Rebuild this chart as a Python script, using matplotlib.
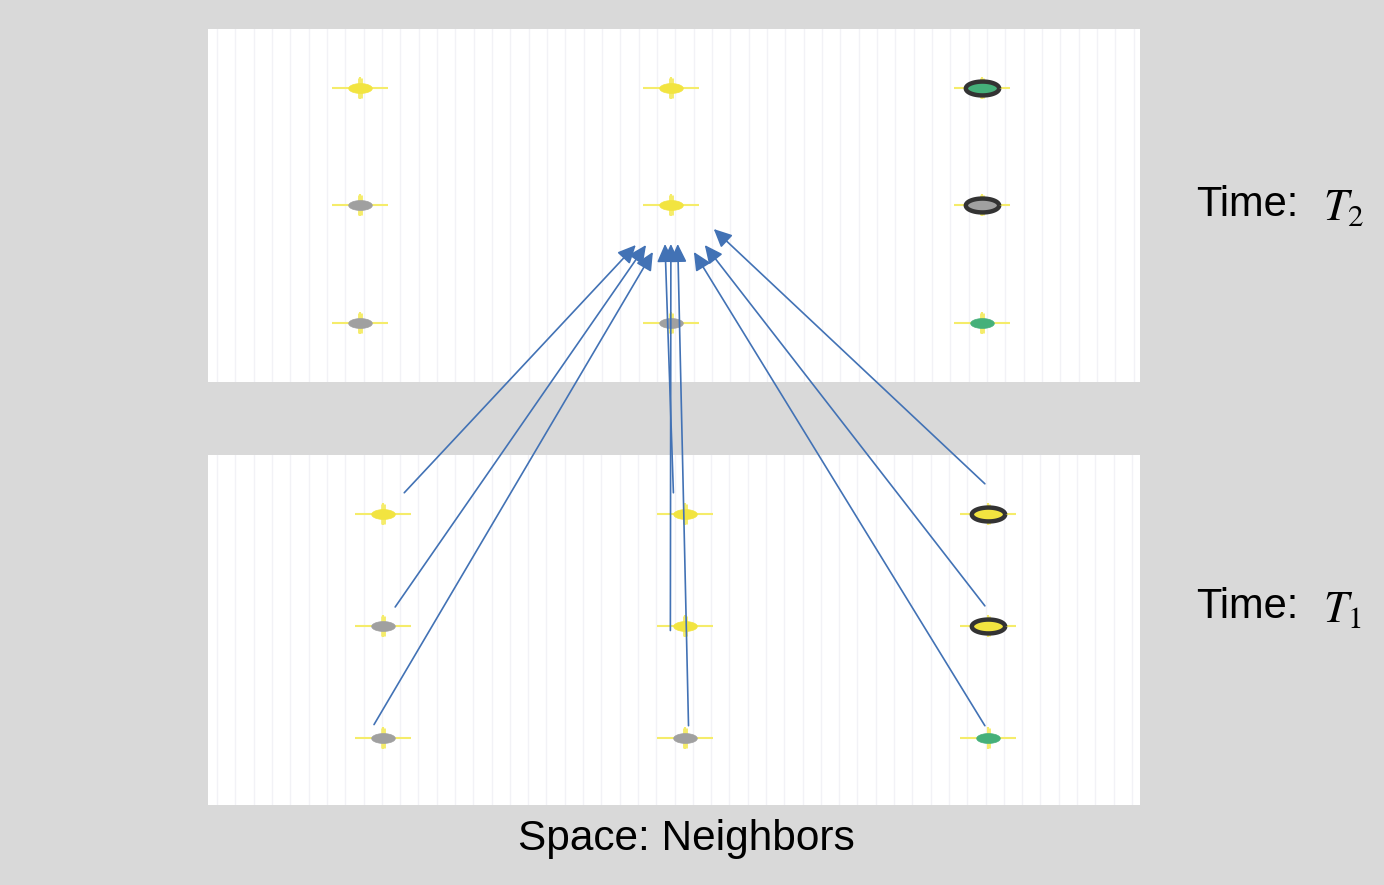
import numpy as np
import matplotlib
matplotlib.use("Agg")
from matplotlib import pyplot as plt
from matplotlib.path import Path
from matplotlib.patches import ConnectionPatch

plt.rcParams['font.family'] = ['Liberation Sans', 'DejaVu Sans']
plt.rcParams['mathtext.fontset'] = 'stix'

# grid of neighbours: columns 0..2 (space), rows 0..2
cols = [0, 1, 2]
rows = [0, 1, 2]

# node states per panel, row by row: fill colour key and dark edge flag
top_fill = [['y', 'y', 'g'],
            ['k', 'y', 'k'],
            ['k', 'k', 'g']]
top_edge = [[0, 0, 1],
            [0, 0, 1],
            [0, 0, 0]]
bot_fill = [['y', 'y', 'y'],
            ['k', 'y', 'y'],
            ['k', 'k', 'g']]
bot_edge = [[0, 0, 1],
            [0, 0, 1],
            [0, 0, 0]]

# arrows: start in T1 panel (x, y) -> end in T2 panel (x, y), data units
arrow_start = [(0.07, -0.19), (0.04, 0.83), (-0.03, 1.88),
               (0.96, -0.19), (0.95, 1.04), (1.01, 1.89),
               (1.99, -0.27), (1.99, 0.82), (1.99, 1.89)]
arrow_end = [(0.887, 1.336), (0.920, 1.336), (0.942, 1.395),
             (0.981, 1.327), (1.000, 1.327), (1.022, 1.327),
             (1.138, 1.200), (1.109, 1.336), (1.074, 1.395)]

colors = {'y': '#f2e440', 'g': '#45b07a', 'k': '#a0a0a0'}
glow = '#f5ec6a'
bg = '#d9d9d9'
arrow_col = '#4272b5'

# ellipse marker and glow cross marker
t = np.linspace(0, 2 * np.pi, 60)
ellipse = Path(np.column_stack([2.4 * np.cos(t), np.sin(t)]))
cross = Path([(-2.6, 0), (2.6, 0), (0, -1.0), (0, 1.0)],
             [Path.MOVETO, Path.LINETO, Path.MOVETO, Path.LINETO])

W, H = 1384, 885
fig = plt.figure(figsize=(W / 100, H / 100), dpi=100, facecolor=bg)

ax_top = fig.add_axes([208 / W, 1 - 382 / H, 932 / W, 353 / H])
ax_bot = fig.add_axes([208 / W, 1 - 805 / H, 932 / W, 350 / H])


def draw_panel(ax, fills, edges, xlim, ylim, step):
    ax.set_facecolor('white')
    ax.set_xlim(*xlim)
    ax.set_ylim(*ylim)
    ax.set_xticks(np.arange(xlim[0] + step / 2, xlim[1], step))
    ax.set_yticks([])
    ax.grid(True, axis='x', color='#f2f2f6', lw=1.0)
    ax.tick_params(length=0, labelbottom=False, labelleft=False)
    for s in ax.spines.values():
        s.set_visible(False)
    for r in rows:
        for c in cols:
            ax.plot(c, r, marker=cross, ms=40, mew=1.5, color=glow,
                    linestyle='none', zorder=2)
            if edges[r][c]:
                ax.plot(c, r, marker=ellipse, ms=24, mfc=colors[fills[r][c]],
                        mec='#333333', mew=3.2, linestyle='none', zorder=3)
            else:
                ax.plot(c, r, marker=ellipse, ms=17, mfc=colors[fills[r][c]],
                        mec=colors[fills[r][c]], mew=0.5, linestyle='none',
                        zorder=3)
        # small vertical glow dots above / below each node
        ax.plot(cols, [r] * 3, marker='|', ms=15, mew=3.5, color=glow,
                linestyle='none', zorder=1)


draw_panel(ax_top, top_fill, top_edge, (-0.49, 2.51), (2.5, -0.5), 0.059)
draw_panel(ax_bot, bot_fill, bot_edge, (-0.579, 2.503), (2.598, -0.527), 0.0605)

for (x0, y0), (x1, y1) in zip(arrow_start, arrow_end):
    con = ConnectionPatch(xyA=(x0, y0), coordsA=ax_bot.transData,
                          xyB=(x1, y1), coordsB=ax_top.transData,
                          arrowstyle='-|>,head_length=0.55,head_width=0.26',
                          mutation_scale=20, color=arrow_col, lw=1.2,
                          shrinkA=0, shrinkB=0, zorder=5)
    fig.add_artist(con)

for label, y in [('$T_2$', 205), ('$T_1$', 607)]:
    fig.text(1196 / W, 1 - y / H, 'Time:', fontsize=30,
             ha='left', va='center')
    fig.text(1323 / W, 1 - (y + 3) / H, label, fontsize=32,
             ha='left', va='center')
fig.text(686 / W, 1 - 839 / H, 'Space: Neighbors', fontsize=30.5,
         ha='center', va='center')

fig.savefig('out.png', dpi=100, facecolor=bg)
